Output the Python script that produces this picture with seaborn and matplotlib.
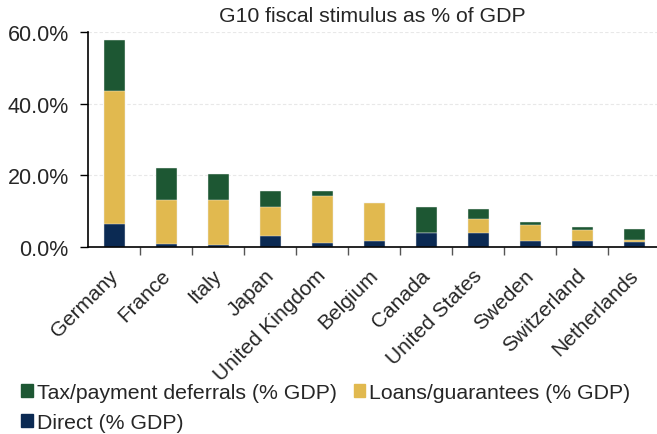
import matplotlib
matplotlib.use("Agg")
import matplotlib.pyplot as plt
import matplotlib.transforms as mtransforms
import seaborn as sns
import pandas as pd
import numpy as np
from matplotlib.patches import Patch
from matplotlib.ticker import PercentFormatter, FixedLocator

countries = ["Germany", "France", "Italy", "Japan", "United Kingdom", "Belgium",
             "Canada", "United States", "Sweden", "Switzerland", "Netherlands"]
direct = [6.5, 0.9, 0.65, 3.2, 1.2, 1.85, 4.05, 3.9, 1.75, 1.75, 1.4]
loans = [37.0, 12.2, 12.55, 7.9, 13.05, 10.45, 0.0, 3.95, 4.45, 3.05, 0.6]
tax = [14.1, 9.1, 7.1, 4.7, 1.35, 0.0, 7.15, 2.7, 0.8, 0.75, 3.0]

c_tax = "#1D5733"
c_loans = "#E1B94F"
c_direct = "#0B2A53"
labels = ["Tax/payment deferrals (% GDP)", "Loans/guarantees (% GDP)", "Direct (% GDP)"]

df = pd.DataFrame({"country": countries, "direct": direct, "loans": loans, "tax": tax})
df["lvl1"] = df["direct"]
df["lvl2"] = df["direct"] + df["loans"]
df["lvl3"] = df["lvl2"] + df["tax"]

sns.set_theme(style="white")
plt.rcParams["font.family"] = ["Liberation Sans", "DejaVu Sans"]

fig = plt.figure(figsize=(6.57, 4.35), dpi=100)
ax = fig.add_axes([88.3 / 657, 186.7 / 435, 572 / 657, 215.6 / 435])

for col, color in [("lvl3", c_tax), ("lvl2", c_loans), ("lvl1", c_direct)]:
    sns.barplot(data=df, x="country", y=col, color=color, ax=ax, width=0.4,
                saturation=1, edgecolor="#f2f2f2", linewidth=0.3)

ax.set_xlim(-0.5, len(countries) - 0.5)
ax.set_ylim(0, 60)
ax.set_xlabel("")
ax.set_ylabel("")
ax.yaxis.set_major_locator(FixedLocator([0, 20, 40, 60]))
ax.yaxis.set_major_formatter(PercentFormatter(xmax=100, decimals=1))
ax.grid(axis="y", color="#e8e8e8", linestyle=(0, (3, 2)), linewidth=0.8)
ax.set_axisbelow(True)
for s in ["top", "right"]:
    ax.spines[s].set_visible(False)
for s in ["left", "bottom"]:
    ax.spines[s].set_color("black")
    ax.spines[s].set_linewidth(1.2)

ax.set_xticks(range(len(countries)))
ax.set_xticklabels(countries, rotation=45, ha="right", rotation_mode="anchor", fontsize=15)
ax.tick_params(axis="x", which="major", length=0, pad=8)
offset = mtransforms.ScaledTranslation(-6 / 100, -7 / 100, fig.dpi_scale_trans)
for lab in ax.get_xticklabels():
    lab.set_transform(lab.get_transform() + offset)
ax.set_xticks(np.arange(0.5, len(countries) - 0.5, 1), minor=True)
ax.tick_params(axis="x", which="minor", length=6, width=1, color="#555555", direction="out", bottom=True)
ax.tick_params(axis="y", length=6, width=1, color="black", direction="out", left=True, labelsize=15.5, pad=8)

fig.text(372 / 657, 1 - 17 / 435, "G10 fiscal stimulus as % of GDP", ha="center", va="center", fontsize=15.3)

handles = [Patch(color=c_tax), Patch(color=c_direct), Patch(color=c_loans)]
hl = [labels[0], labels[2], labels[1]]
fig.legend(handles, hl, ncol=2, loc="upper left", bbox_to_anchor=(15 / 657, 1 - 378 / 435),
           frameon=False, fontsize=15.3, handlelength=0.53, handleheight=0.58,
           handletextpad=0.2, columnspacing=0.8, labelspacing=0.5, borderaxespad=0.0,
           borderpad=0.3)

fig.savefig("out.png", dpi=100)
